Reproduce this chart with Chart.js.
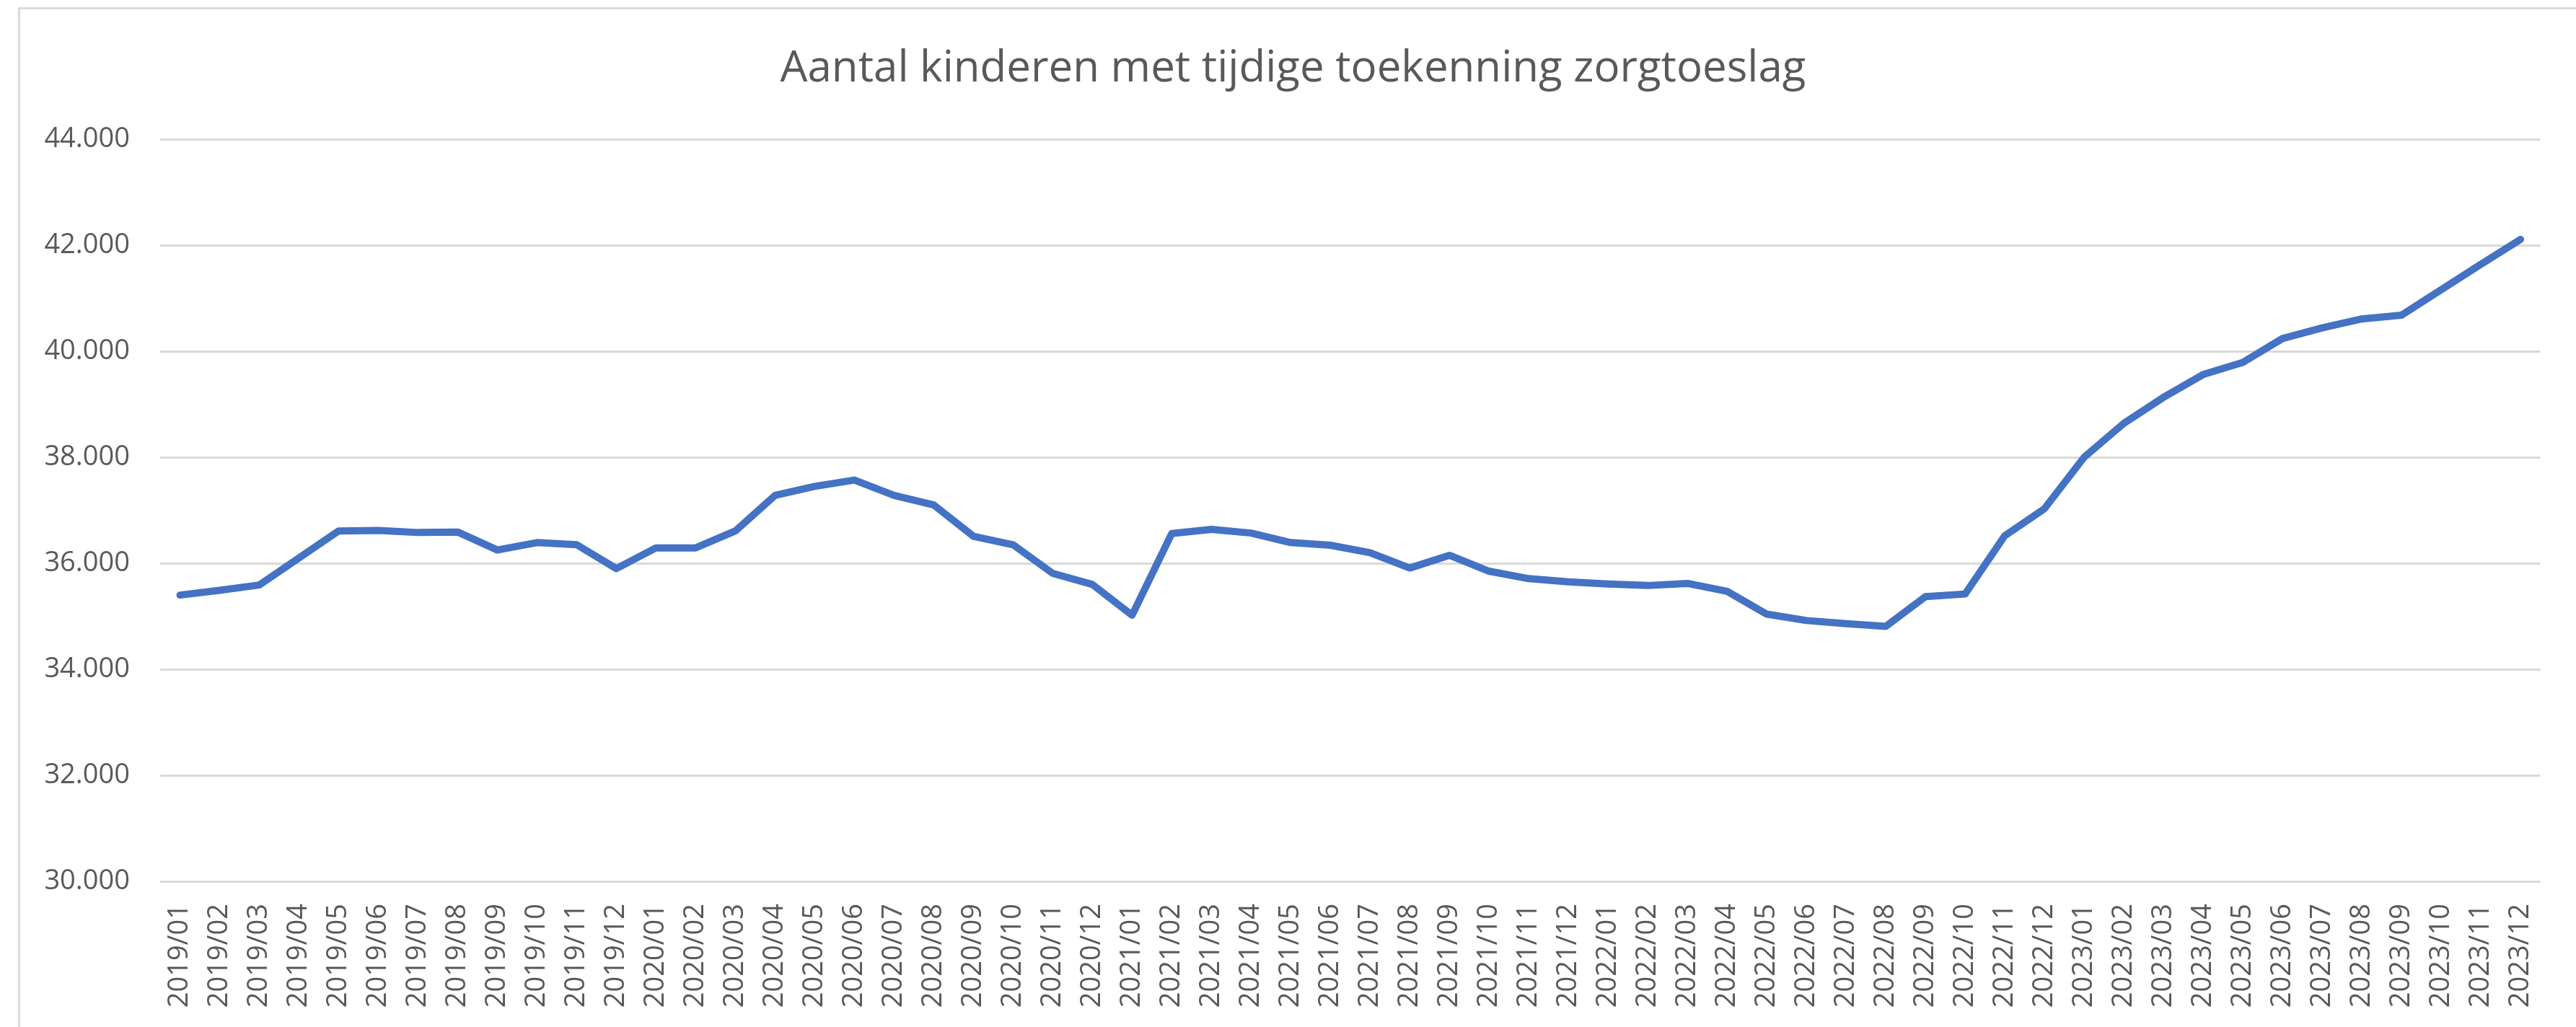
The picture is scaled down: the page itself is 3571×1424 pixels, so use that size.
<!DOCTYPE html>
<html>
<head>
<meta charset="utf-8">
<script src="https://cdn.jsdelivr.net/npm/chart.js@4"></script>
<style>
  html, body { margin: 0; padding: 0; background: #fff; overflow: hidden; }
  #wrap { position: relative; width: 3571px; height: 1424px; }
  #frame {
    position: absolute; left: 25px; top: 10px; right: -10px; bottom: -10px;
    border-left: 3px solid #d9d9d9; border-top: 3px solid #d9d9d9;
  }
  canvas { position: absolute; left: 0; top: 0; }
</style>
</head>
<body>
<div id="wrap">
  <div id="frame"></div>
  <canvas id="myChart" width="3571" height="1424"></canvas>
</div>
<script>
const months = [
  '2019/01', '2019/02', '2019/03', '2019/04', '2019/05', '2019/06', '2019/07', '2019/08', '2019/09', '2019/10', '2019/11', '2019/12',
  '2020/01', '2020/02', '2020/03', '2020/04', '2020/05', '2020/06', '2020/07', '2020/08', '2020/09', '2020/10', '2020/11', '2020/12',
  '2021/01', '2021/02', '2021/03', '2021/04', '2021/05', '2021/06', '2021/07', '2021/08', '2021/09', '2021/10', '2021/11', '2021/12',
  '2022/01', '2022/02', '2022/03', '2022/04', '2022/05', '2022/06', '2022/07', '2022/08', '2022/09', '2022/10', '2022/11', '2022/12',
  '2023/01', '2023/02', '2023/03', '2023/04', '2023/05', '2023/06', '2023/07', '2023/08', '2023/09', '2023/10', '2023/11', '2023/12'
];

const kinderen = [
  35400, 35490, 35590, 36100, 36610, 36620, 36580, 36590, 36250, 36390, 36350, 35900,
  36290, 36290, 36610, 37280, 37450, 37570, 37280, 37100, 36510, 36350, 35810, 35600,
  35020, 36560, 36640, 36570, 36390, 36340, 36200, 35910, 36150, 35850, 35710, 35650,
  35610, 35580, 35620, 35470, 35040, 34920, 34860, 34810, 35370, 35420, 36520, 37030,
  38000, 38640, 39130, 39560, 39790, 40240, 40440, 40610, 40680, 41160, 41640, 42110
];

const yMin = 30000;
const yMax = 44000;
const yStep = 2000;

const title = 'Aantal kinderen met tijdige toekenning zorgtoeslag';

// dutch thousands separator: 44000 -> 44.000
function formatNL(v) {
  return String(v).replace(/\B(?=(\d{3})+(?!\d))/g, '.');
}

const ctx = document.getElementById('myChart').getContext('2d');

const myChart = new Chart(ctx, {
  type: 'line',
  data: {
    labels: months,
    datasets: [{
      data: kinderen,
      borderColor: '#4472C4',
      backgroundColor: '#4472C4',
      borderWidth: 10,
      borderCapStyle: 'round',
      borderJoinStyle: 'round',
      pointRadius: 0,
      tension: 0
    }]
  },
  options: {
    responsive: false,
    animation: false,
    layout: {
      // some left padding pushes the centred title a bit to the right, like excel
      padding: { left: 56, right: 42, top: 20, bottom: 0 }
    },
    plugins: {
      legend: { display: false },
      tooltip: { enabled: false },
      title: {
        display: true,
        text: title,
        color: '#595959',
        font: { family: 'Open Sans', size: 60, weight: 'normal' },
        padding: { top: 40, bottom: 61 }
      }
    },
    scales: {
      x: {
        offset: true,
        grid: { display: false, drawTicks: false },
        border: { display: false },
        ticks: {
          color: '#595959',
          font: { family: 'Open Sans', size: 38 },
          minRotation: 90,
          maxRotation: 90,
          autoSkip: false,
          padding: 31
        },
        afterFit: (scale) => { scale.height = 202; }
      },
      y: {
        min: yMin,
        max: yMax,
        grid: { color: '#d9d9d9', lineWidth: 3, drawTicks: false },
        border: { display: false },
        ticks: {
          stepSize: yStep,
          color: '#595959',
          font: { family: 'Open Sans', size: 38 },
          padding: 42,
          callback: (value) => formatNL(value)
        },
        afterFit: (scale) => { scale.width = 166; }
      }
    }
  }
});
</script>
</body>
</html>
